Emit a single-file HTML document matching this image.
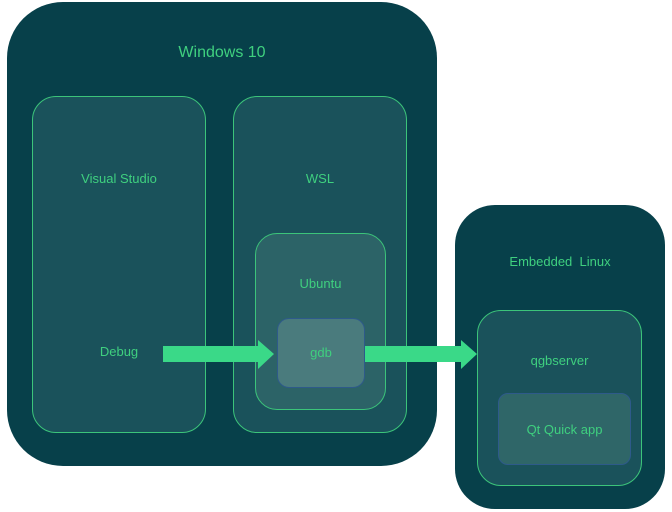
<!DOCTYPE html>
<html><head><style>
body{margin:0;width:672px;height:512px;background:#fff;position:relative;overflow:hidden;font-family:"Liberation Sans",sans-serif;}
div.b{position:absolute;box-sizing:border-box;}
.t{position:absolute;color:#3fd07f;font-size:13px;text-align:center;width:100%;left:0;}
</style></head><body>
<div class="b" style="left:7px;top:2px;width:430px;height:464px;background:#07404a;border-radius:56px;"><div class="t" style="top:42px;font-size:16px;">Windows 10</div></div>
<div class="b" style="left:32px;top:96px;width:174px;height:337px;background:#1a525b;border:1px solid #3cc47a;border-radius:24px;"><div class="t" style="top:74px;">Visual Studio</div><div class="t" style="top:247px;">Debug</div></div>
<div class="b" style="left:233px;top:96px;width:174px;height:337px;background:#1a525b;border:1px solid #3cc47a;border-radius:24px;"><div class="t" style="top:74px;">WSL</div></div>
<div class="b" style="left:255px;top:233px;width:131px;height:177px;background:#2c6367;border:1px solid #3cc47a;border-radius:22px;"><div class="t" style="top:42px;">Ubuntu</div></div>
<div class="b" style="left:277px;top:318px;width:88px;height:70px;background:#4a7b7d;border:1px solid #2e5a8a;border-radius:12px;"><div class="t" style="top:26px;">gdb</div></div>
<div class="b" style="left:455px;top:205px;width:210px;height:304px;background:#07404a;border-radius:40px;"><div class="t" style="top:49px;">Embedded&nbsp; Linux</div></div>
<div class="b" style="left:477px;top:310px;width:165px;height:176px;background:#1a525b;border:1px solid #3cc47a;border-radius:24px;"><div class="t" style="top:42px;">qgbserver</div></div>
<div class="b" style="left:498px;top:393px;width:133px;height:72px;background:#2f6668;border:1px solid #2e5a8a;border-radius:10px;"><div class="t" style="top:28px;">Qt Quick app</div></div>
<svg style="position:absolute;left:0;top:0" width="672" height="512">
<polygon fill="#3ad988" points="163,346 258,346 258,340 274,354 258,369 258,362 163,362"/>
<polygon fill="#3ad988" points="365,346 461,346 461,340 477,354 461,369 461,362 365,362"/>
</svg>
</body></html>
